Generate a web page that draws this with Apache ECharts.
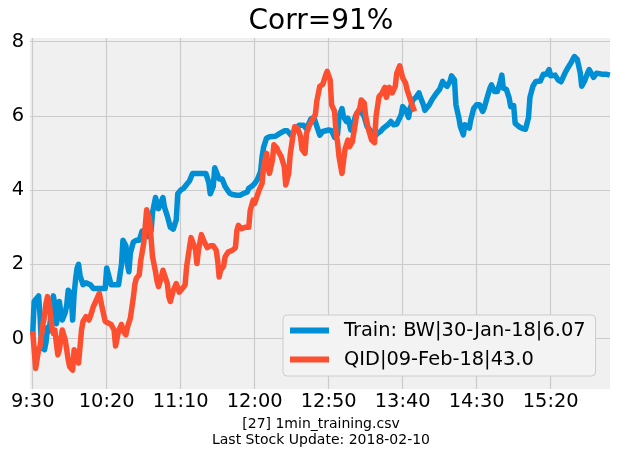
<!DOCTYPE html>
<html>
<head>
<meta charset="utf-8">
<script src="https://cdn.jsdelivr.net/npm/echarts@6/dist/echarts.min.js"></script>
<style>
html,body{margin:0;padding:0;background:#ffffff;}
#chart{width:617px;height:458px;}
</style>
</head>
<body>
<div id="chart"></div>
<script>
// ---- data (minutes after 9:30, value) ----
const xTickMinutes = [0, 50, 100, 150, 200, 250, 300, 350];
const xTickLabels = ['9:30', '10:20', '11:10', '12:00', '12:50', '13:40', '14:30', '15:20'];
const yTickValues = [0, 2, 4, 6, 8];

const trainName = 'Train: BW|30-Jan-18|6.07';
const qidName = 'QID|09-Feb-18|43.0';

const trainMin = [0,1,2,4,5,6,8,9,10,11,12,13,14,15,16,17,18,19,20,22,23,24,26,27,28,29,30,31,32,34,36,37,39,40,41,45,49,50,51,53,54,56,58,59,60,61,62,63,64,65,66,68,70,72,74,76,78,80,81,83,84,85,87,88,89,91,93,95,97,98,100,102,104,106,108,111,114,117,118,119,120,122,123,124,126,128,130,133,135,138,140,142,145,146,148,150,152,154,155,156,158,160,164,167,170,172,175,177,180,183,185,188,190,192,194,196,200,202,204,206,207,209,210,212,213,215,216,218,219,222,224,226,228,231,233,235,237,240,242,244,246,249,250,252,254,255,257,259,261,262,264,265,266,268,270,273,275,277,278,280,282,283,285,286,288,289,291,292,293,295,296,298,300,302,304,305,307,309,310,312,314,316,317,318,320,322,323,325,326,327,329,331,333,335,336,338,340,343,345,347,349,350,353,355,357,360,362,364,366,368,370,371,373,375,376,379,381,383,385,388,390];
const trainVal = [0.1,1.0,1.0,1.15,0.6,-0.25,-0.3,-0.1,0.3,0.2,0.5,0.9,1.15,0.9,0.4,0.6,1.0,0.7,0.5,0.7,0.9,1.3,1.2,0.5,1.2,1.6,1.9,2.0,1.7,1.45,1.5,1.55,1.45,1.5,1.35,1.35,1.35,1.9,1.85,1.45,1.5,1.45,1.45,1.4,2.0,2.65,2.7,2.5,2.0,1.8,2.3,2.6,2.65,2.65,2.9,2.9,2.75,2.9,3.4,3.8,3.75,3.5,3.7,3.8,3.55,3.3,3.0,2.95,3.2,3.9,4.0,4.05,4.15,4.25,4.45,4.45,4.45,4.45,4.4,4.2,3.9,4.1,4.6,4.55,4.3,4.3,4.1,3.92,3.88,3.86,3.86,3.9,3.95,4.05,4.1,4.18,4.3,4.5,4.9,5.15,5.4,5.44,5.45,5.53,5.6,5.6,5.46,5.6,5.75,5.75,5.65,5.92,5.96,5.72,5.48,5.58,5.62,5.6,5.42,5.5,5.98,6.2,5.98,5.85,5.94,5.62,5.71,5.98,6.07,6.12,5.98,5.71,5.62,5.44,5.53,5.58,5.67,5.76,5.85,5.76,5.78,6.03,6.25,6.16,5.96,6.2,6.44,6.5,6.62,6.5,6.3,6.15,6.2,6.3,6.45,6.62,6.72,6.93,6.86,6.8,6.93,7.08,6.97,6.3,5.94,5.71,5.49,5.76,5.76,5.67,5.89,6.2,6.3,6.3,6.12,6.2,6.48,6.75,6.84,6.66,6.66,6.93,7.1,6.75,6.72,6.48,6.25,6.28,5.8,5.85,5.7,5.66,5.64,5.95,6.5,6.8,6.93,6.94,7.12,7.12,7.25,7.08,7.1,6.97,6.92,7.18,7.32,7.45,7.6,7.52,7.16,6.8,6.95,7.16,7.25,7.04,7.15,7.14,7.12,7.12,7.1];

const qidMin = [0,1,2,4,5,7,8,9,10,11,13,14,15,16,17,18,20,21,22,24,25,27,28,29,31,32,33,34,36,38,39,41,42,44,45,47,49,51,53,55,56,58,60,61,63,64,66,67,68,69,70,72,73,75,76,77,79,80,81,83,84,85,87,88,89,91,92,93,95,96,97,99,100,102,103,104,106,107,108,110,111,112,114,115,116,118,120,122,124,125,126,127,129,130,132,135,137,138,139,141,144,146,147,149,150,153,155,156,158,159,160,162,163,165,166,168,170,171,173,174,176,177,179,181,182,184,185,187,189,191,192,194,196,198,199,201,202,204,205,206,207,209,210,211,213,214,216,218,219,221,222,224,225,227,229,231,232,234,236,238,239,241,243,245,246,248,250,252,253,254,256,258];
const qidVal = [0.2,-0.3,-0.8,-0.3,-0.2,0.41,0.6,0.95,1.13,1.0,0.32,0.14,0.23,-0.13,-0.44,-0.3,0.23,0.27,-0.04,-0.57,-0.76,-0.85,-0.3,-0.3,-0.66,-0.7,0.23,0.46,0.59,0.5,0.6,0.86,0.95,1.13,1.22,0.82,0.46,0.42,0.38,0.23,-0.2,0.2,0.38,0.2,0.1,0.3,0.55,0.6,1.1,1.45,1.62,1.72,2.1,2.56,3.0,3.47,3.2,2.7,2.2,1.8,1.55,1.4,1.66,1.84,1.8,1.48,1.12,1.0,1.3,1.3,1.48,1.25,1.2,1.39,1.45,1.93,2.47,2.72,2.69,2.4,2.02,2.38,2.8,2.83,2.6,2.45,2.5,2.5,2.38,2.1,1.66,1.84,1.95,2.2,2.33,2.38,2.45,2.92,3.05,2.96,3.0,3.0,3.46,3.73,3.64,4.0,4.18,4.63,4.99,4.6,4.45,4.81,5.22,5.13,5.04,4.9,4.63,4.14,4.45,4.95,5.5,5.71,5.67,5.44,5.1,4.99,5.53,5.75,5.9,6.03,6.4,6.8,6.85,7.1,7.2,6.97,6.3,6.12,5.53,5.3,4.9,4.45,4.42,5.1,5.35,5.17,5.3,5.8,6.07,6.2,6.43,6.35,6.0,5.62,5.35,5.28,5.98,6.52,6.61,6.77,6.5,6.77,6.62,6.8,7.15,7.35,7.03,6.88,6.7,6.65,6.34,6.12];

// ---- chart ----
const FONT = 'DejaVu Sans';
const chart = echarts.init(document.getElementById('chart'), null, {renderer: 'canvas'});

const trainData = trainMin.map((m, i) => [m, trainVal[i]]);
const qidData = qidMin.map((m, i) => [m, qidVal[i]]);

chart.setOption({
  animation: false,
  backgroundColor: '#ffffff',
  title: {
    text: 'Corr=91%',
    left: 321,
    top: 8,
    textAlign: 'center',
    padding: 0,
    textStyle: {fontFamily: FONT, fontSize: 28, fontWeight: 'normal', color: '#000'}
  },
  graphic: [{
    type: 'text',
    x: 321,
    y: 432,
    style: {
      text: '[27] 1min_training.csv\nLast Stock Update: 2018-02-10',
      font: '14px "DejaVu Sans"',
      fill: '#000',
      align: 'center',
      verticalAlign: 'middle',
      lineHeight: 16
    }
  }],
  legend: {
    orient: 'vertical',
    left: 283,
    top: 315,
    padding: [6, 10, 7, 7],
    itemGap: 10,
    itemWidth: 39,
    itemHeight: 6,
    icon: 'rect',
    backgroundColor: '#f3f3f3',
    borderColor: '#cccccc',
    borderWidth: 1,
    borderRadius: 4,
    textStyle: {fontFamily: FONT, fontSize: 19.4, color: '#000', padding: [0, 0, 0, 10]},
    data: [trainName, qidName]
  },
  grid: {
    left: 30, right: 7, top: 38, bottom: 69,
    show: true, backgroundColor: '#f0f0f0', borderWidth: 0,
    containLabel: false
  },
  xAxis: {
    type: 'value',
    min: -1.82,
    max: 390.1,
    axisLine: {show: false},
    axisTick: {show: false, customValues: xTickMinutes},
    axisLabel: {
      customValues: xTickMinutes,
      formatter: function (v) { const i = xTickMinutes.indexOf(Math.round(v)); return i >= 0 ? xTickLabels[i] : ''; },
      fontFamily: FONT, fontSize: 19.4, color: '#000', margin: 3
    },
    splitLine: {show: true, lineStyle: {color: '#cbcbcb', width: 1.2}}
  },
  yAxis: {
    type: 'value',
    min: -1.36,
    max: 8.1,
    axisLine: {show: false},
    axisTick: {show: false, customValues: yTickValues},
    axisLabel: {
      customValues: yTickValues,
      fontFamily: FONT, fontSize: 19.4, color: '#000', margin: 6
    },
    splitLine: {show: true, lineStyle: {color: '#cbcbcb', width: 1.2}}
  },
  series: [
    {
      name: trainName, type: 'line', data: trainData, showSymbol: false,
      color: '#008fd5',
      lineStyle: {width: 5.5, color: '#008fd5', join: 'round', cap: 'butt'},
      z: 2
    },
    {
      name: qidName, type: 'line', data: qidData, showSymbol: false,
      color: '#fc4f30',
      lineStyle: {width: 5.5, color: '#fc4f30', join: 'round', cap: 'butt'},
      z: 3
    }
  ]
});
</script>
</body>
</html>
